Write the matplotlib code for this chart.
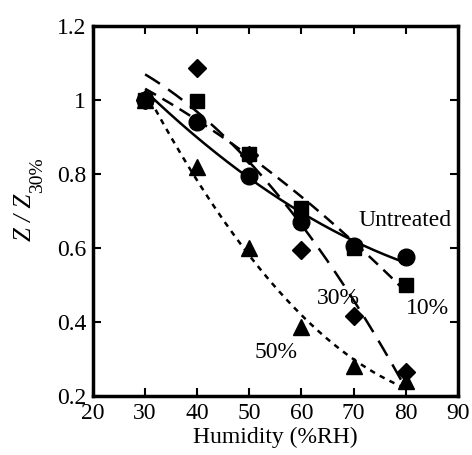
import matplotlib
matplotlib.use("Agg")
import matplotlib.pyplot as plt
import numpy as np

plt.rcParams['font.family'] = ['Liberation Serif', 'DejaVu Serif']

humidity = np.array([30, 40, 50, 60, 70, 80])
untreated = np.array([1.0, 0.94, 0.795, 0.67, 0.605, 0.575])
treated10 = np.array([1.0, 0.997, 0.855, 0.707, 0.60, 0.50])
treated30 = np.array([1.0, 1.085, 0.85, 0.595, 0.415, 0.265])
treated50 = np.array([1.0, 0.82, 0.60, 0.385, 0.28, 0.24])

labels = ['Untreated', '10%', '30%', '50%']
label_pos = [(71.0, 0.675), (80.1, 0.435), (63.0, 0.462), (51.0, 0.318)]

fig = plt.figure(figsize=(4.72, 4.55), dpi=100)
ax = fig.add_axes([0.197, 0.130, 0.773, 0.813])

xs = np.linspace(30, 80, 200)

# quadratic trend lines through each series
styles = [
    (untreated, 'o', 12, (0, ()), 1.8),
    (treated10, 's', 10.5, (0, (5, 3)), 1.8),
    (treated30, 'D', 9, (0, (7, 4)), 1.8),
    (treated50, '^', 11.5, (0, (2.2, 2.2)), 1.8),
]
for data, marker, ms, ls, lw in styles:
    coef = np.polyfit(humidity, data, 2)
    ax.plot(xs, np.polyval(coef, xs), color='black', linestyle=ls, linewidth=lw)
    ax.plot(humidity, data, linestyle='none', marker=marker, markersize=ms,
            color='black')

for text, (tx, ty) in zip(labels, label_pos):
    ax.text(tx, ty, text, fontsize=17, va='center', ha='left')

ax.set_xlim(20, 90)
ax.set_ylim(0.2, 1.2)
ax.set_xticks(np.arange(20, 91, 10))
ax.set_yticks([0.2, 0.4, 0.6, 0.8, 1.0, 1.2])
ax.set_yticklabels(['0.2', '0.4', '0.6', '0.8', '1', '1.2'])
ax.tick_params(direction='in', length=6, width=1.5, top=True, right=True,
               labelsize=17, pad=5)
for s in ax.spines.values():
    s.set_linewidth(2.5)

ax.set_xlabel('Humidity (%RH)', fontsize=17, labelpad=2)

# y label: italic Z / Z with a large upright subscript
fig.text(0.052, 1 - 241 / 455, 'Z / Z', fontsize=18, style='italic',
         rotation=90, ha='center', va='bottom')
fig.text(0.080, 1 - 193 / 455, '30%', fontsize=14, rotation=90,
         ha='center', va='bottom')

fig.savefig('out.png', dpi=100)
